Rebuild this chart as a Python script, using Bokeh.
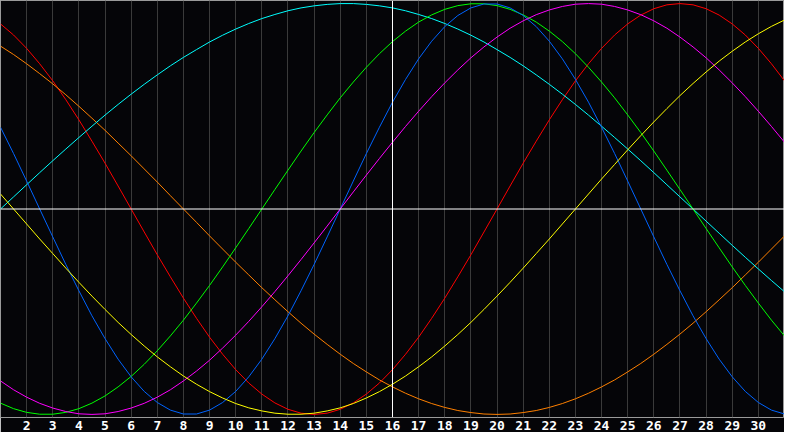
from bokeh.plotting import figure
from bokeh.models import Range1d, FixedTicker, Span
from bokeh.embed import file_html
from bokeh.resources import INLINE

days = list(range(1, 32))
today = 16
# readings taken every half day, from day 1 to day 31
t = [d / 2 for d in range(2, 63)]

blue = [0.398, 0.270, 0.136, 0.000, -0.136, -0.270, -0.398, -0.520, -0.631, -0.731,
        -0.817, -0.888, -0.942, -0.979, -0.998, -0.998, -0.979, -0.942, -0.888, -0.817,
        -0.731, -0.631, -0.520, -0.398, -0.270, -0.136, 0.000, 0.136, 0.270, 0.398,
        0.520, 0.631, 0.731, 0.817, 0.888, 0.942, 0.979, 0.998, 0.998, 0.979,
        0.942, 0.888, 0.817, 0.731, 0.631, 0.520, 0.398, 0.270, 0.136, 0.000,
        -0.136, -0.270, -0.398, -0.520, -0.631, -0.731, -0.817, -0.888, -0.942, -0.979,
        -0.998]
red = [0.901, 0.847, 0.782, 0.707, 0.624, 0.532, 0.434, 0.330, 0.223, 0.112,
       0.000, -0.112, -0.223, -0.330, -0.434, -0.532, -0.624, -0.707, -0.782, -0.847,
       -0.901, -0.944, -0.975, -0.994, -1.000, -0.994, -0.975, -0.944, -0.901, -0.847,
       -0.782, -0.707, -0.624, -0.532, -0.434, -0.330, -0.223, -0.112, 0.000, 0.112,
       0.223, 0.330, 0.434, 0.532, 0.624, 0.707, 0.782, 0.847, 0.901, 0.944,
       0.975, 0.994, 1.000, 0.994, 0.975, 0.944, 0.901, 0.847, 0.782, 0.707,
       0.624]
green = [-0.945, -0.972, -0.990, -0.999, -0.999, -0.990, -0.972, -0.945, -0.910, -0.866,
         -0.815, -0.756, -0.690, -0.618, -0.541, -0.458, -0.372, -0.282, -0.189, -0.095,
         0.000, 0.095, 0.189, 0.282, 0.372, 0.458, 0.541, 0.618, 0.690, 0.756,
         0.815, 0.866, 0.910, 0.945, 0.972, 0.990, 0.999, 0.999, 0.990, 0.972,
         0.945, 0.910, 0.866, 0.815, 0.756, 0.690, 0.618, 0.541, 0.458, 0.372,
         0.282, 0.189, 0.095, 0.000, -0.095, -0.189, -0.282, -0.372, -0.458, -0.541,
         -0.618]
magenta = [-0.837, -0.880, -0.916, -0.946, -0.969, -0.986, -0.997, -1.000, -0.997, -0.986,
           -0.969, -0.946, -0.916, -0.880, -0.837, -0.789, -0.736, -0.677, -0.614, -0.547,
           -0.476, -0.402, -0.325, -0.246, -0.165, -0.083, 0.000, 0.083, 0.165, 0.246,
           0.325, 0.402, 0.476, 0.547, 0.614, 0.677, 0.736, 0.789, 0.837, 0.880,
           0.916, 0.946, 0.969, 0.986, 0.997, 1.000, 0.997, 0.986, 0.969, 0.946,
           0.916, 0.880, 0.837, 0.789, 0.736, 0.677, 0.614, 0.547, 0.476, 0.402,
           0.325]
yellow = [0.073, 0.000, -0.073, -0.146, -0.217, -0.288, -0.357, -0.424, -0.489, -0.552,
          -0.611, -0.667, -0.720, -0.768, -0.813, -0.853, -0.889, -0.920, -0.947, -0.968,
          -0.983, -0.994, -0.999, -0.999, -0.994, -0.983, -0.968, -0.947, -0.920, -0.889,
          -0.853, -0.813, -0.768, -0.720, -0.667, -0.611, -0.552, -0.489, -0.424, -0.357,
          -0.288, -0.217, -0.146, -0.073, 0.000, 0.073, 0.146, 0.217, 0.288, 0.357,
          0.424, 0.489, 0.552, 0.611, 0.667, 0.720, 0.768, 0.813, 0.853, 0.889,
          0.920]
orange = [0.793, 0.752, 0.707, 0.659, 0.609, 0.556, 0.500, 0.442, 0.383, 0.321,
          0.259, 0.195, 0.131, 0.065, 0.000, -0.065, -0.131, -0.195, -0.259, -0.321,
          -0.383, -0.442, -0.500, -0.556, -0.609, -0.659, -0.707, -0.752, -0.793, -0.832,
          -0.866, -0.897, -0.924, -0.947, -0.966, -0.981, -0.991, -0.998, -1.000, -0.998,
          -0.991, -0.981, -0.966, -0.947, -0.924, -0.897, -0.866, -0.832, -0.793, -0.752,
          -0.707, -0.659, -0.609, -0.556, -0.500, -0.442, -0.383, -0.321, -0.259, -0.195,
          -0.131]
cyan = [0.000, 0.059, 0.118, 0.177, 0.235, 0.292, 0.348, 0.403, 0.457, 0.509,
        0.559, 0.607, 0.653, 0.697, 0.738, 0.776, 0.813, 0.846, 0.876, 0.903,
        0.927, 0.947, 0.965, 0.979, 0.989, 0.996, 1.000, 1.000, 0.996, 0.989,
        0.979, 0.965, 0.947, 0.927, 0.903, 0.876, 0.846, 0.813, 0.776, 0.738,
        0.697, 0.653, 0.607, 0.559, 0.509, 0.457, 0.403, 0.348, 0.292, 0.235,
        0.177, 0.118, 0.059, 0.000, -0.059, -0.118, -0.177, -0.235, -0.292, -0.348,
        -0.403]

series = [(red, "#ff0000"), (orange, "#ff8000"), (cyan, "#00ffff"),
          (green, "#00ff00"), (blue, "#0064ff"), (magenta, "#ff00ff"),
          (yellow, "#ffff00")]

p = figure(width=784, height=432, output_backend="svg", toolbar_location=None,
           x_range=Range1d(1, 31), y_range=Range1d(-1.015, 1.015),
           min_border_left=0, min_border_right=0, min_border_top=0,
           min_border_bottom=0)
p.background_fill_color = "#050508"
p.border_fill_color = "#050508"
p.outline_line_color = "#9a9a9a"

for vals, col in series:
    p.line(t, vals, line_color=col, line_width=1)

p.yaxis.visible = False
p.ygrid.grid_line_color = None
p.xgrid.ticker = FixedTicker(ticks=days[1:-1])
p.xgrid.grid_line_color = "#3a3a3a"

ax = p.xaxis[0]
ax.ticker = FixedTicker(ticks=days[1:-1])
ax.axis_line_color = None
ax.major_tick_line_color = None
ax.minor_tick_line_color = None
ax.major_tick_out = 0
ax.major_tick_in = 0
ax.major_label_standoff = 3
ax.major_label_text_color = "white"
ax.major_label_text_font = "DejaVu Sans Mono"
ax.major_label_text_font_style = "bold"
ax.major_label_text_font_size = "13px"

p.add_layout(Span(location=0, dimension="width", line_color="white", line_width=1))
p.add_layout(Span(location=today, dimension="height", line_color="white", line_width=1))

open("out.html", "w").write(file_html(p, INLINE))
